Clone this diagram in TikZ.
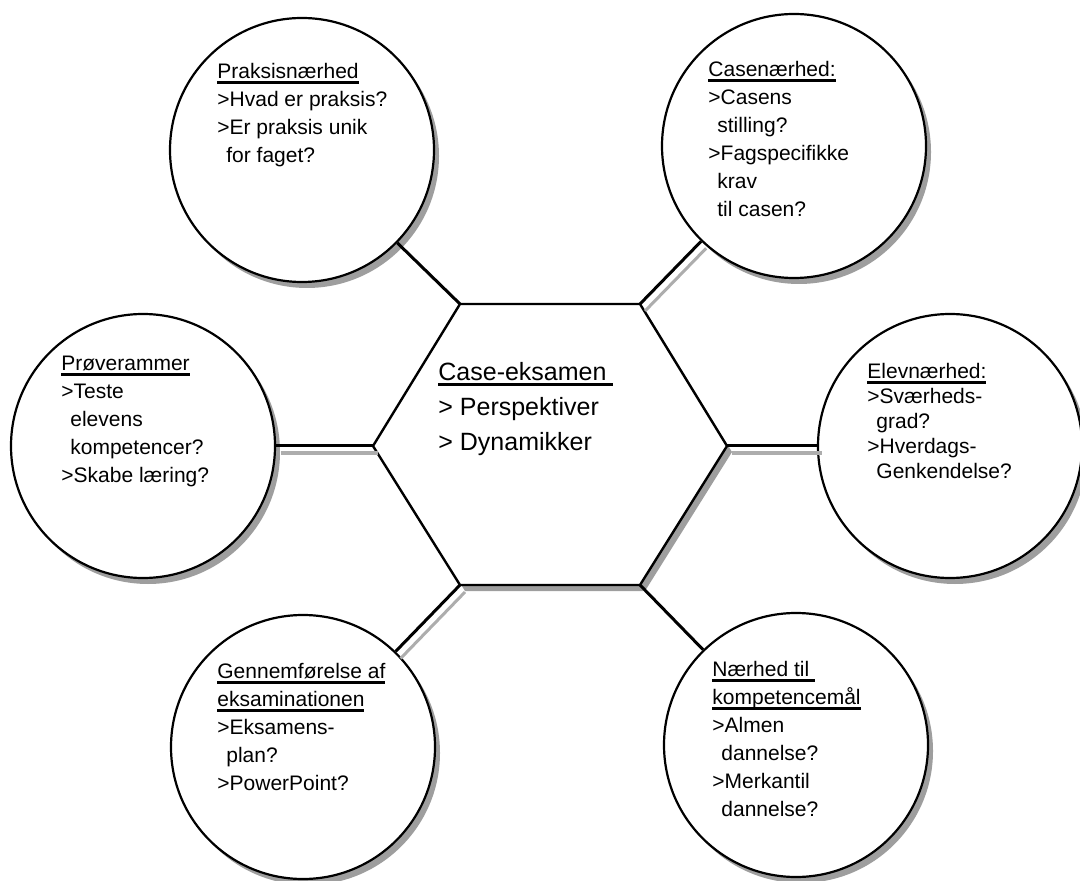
\documentclass[tikz,border=0pt]{standalone}
\usepackage{fontspec}
\setmainfont{Liberation Sans}
\usetikzlibrary{shadows}
\newcommand{\uln}[1]{\setbox0\hbox{#1}\rlap{\rule[-2.6pt]{\wd0}{1.3pt}}\box0}
\begin{document}
\begin{tikzpicture}[x=0.5pt,y=-0.5pt,
  bubble/.style={circle,draw,line width=1.1pt,fill=white,minimum size=132pt,inner sep=0pt,
    drop shadow={shadow xshift=2.5pt,shadow yshift=-3pt,fill=black!38,opacity=1}},
  txt/.style={anchor=north west,inner sep=0pt,align=left,font=\fontsize{10.5}{14}\selectfont},
  con/.style={line width=1.5pt},
  conshade/.style={line width=1.5pt,black!32,transform canvas={shift={(2.5pt,-3.5pt)}}}]
\useasboundingbox (0,0) rectangle (1080,881);
\coordinate (hexTL) at (460,304);
\coordinate (hexTR) at (640,304);
\coordinate (hexR) at (727,446);
\coordinate (hexBR) at (640,585);
\coordinate (hexBL) at (460,585);
\coordinate (hexL) at (373,446);
\filldraw[line width=1.2pt,fill=white,drop shadow={shadow xshift=2.5pt,shadow yshift=-3pt,fill=black!38,opacity=1}]
  (hexTL) -- (hexTR) -- (hexR) -- (hexBR) -- (hexBL) -- (hexL) -- cycle;
\node[anchor=north west,inner sep=0pt,align=left,font=\fontsize{12.5}{17.5}\selectfont] (midTxt) at (438,362)
  {\uln{Case-eksamen }\\> Perspektiver\\> Dynamikker};
\node[bubble] (prak) at (302,150) {};
\node[bubble] (cas) at (794,146) {};
\node[bubble] (prov) at (143,446) {};
\node[bubble] (elev) at (950,446) {};
\node[bubble] (gen) at (303,747) {};
\node[bubble] (komp) at (796,745) {};
\node[txt] (prakTxt) at (217,63) {\uln{Praksisnærhed}\\>Hvad er praksis?\\>Er praksis unik\\\hspace*{4.5pt}for faget?};
\node[txt] (casTxt) at (708,61) {\uln{Casenærhed:}\\>Casens\\\hspace*{4.5pt}stilling?\\>Fagspecifikke\\\hspace*{4.5pt}krav\\\hspace*{4.5pt}til casen?};
\node[txt] (provTxt) at (61,356) {\uln{Prøverammer}\\>Teste\\\hspace*{4.5pt}elevens\\\hspace*{4.5pt}kompetencer?\\>Skabe læring?};
\node[txt,font=\fontsize{10.5}{12.5}\selectfont] (elevTxt) at (867,363) {\uln{Elevnærhed:}\\>Sværheds-\\\hspace*{4.5pt}grad?\\>Hverdags-\\\hspace*{4.5pt}Genkendelse?};
\node[txt] (genTxt) at (217,663) {\uln{Gennemførelse af}\\\uln{eksaminationen}\\>Eksamens-\\\hspace*{4.5pt}plan?\\>PowerPoint?};
\node[txt] (kompTxt) at (712,661) {\uln{Nærhed til }\\\uln{kompetencemål}\\>Almen\\\hspace*{4.5pt}dannelse?\\>Merkantil\\\hspace*{4.5pt}dannelse?};
\draw[conshade] (cas) -- (hexTR);
\draw[conshade] (prov) -- (hexL);
\draw[conshade] (hexR) -- (elev);
\draw[conshade] (gen) -- (hexBL);
\draw[con] (prak) -- (hexTL);
\draw[con] (cas) -- (hexTR);
\draw[con] (prov) -- (hexL);
\draw[con] (hexR) -- (elev);
\draw[con] (gen) -- (hexBL);
\draw[con] (hexBR) -- (komp);
\end{tikzpicture}
\end{document}
